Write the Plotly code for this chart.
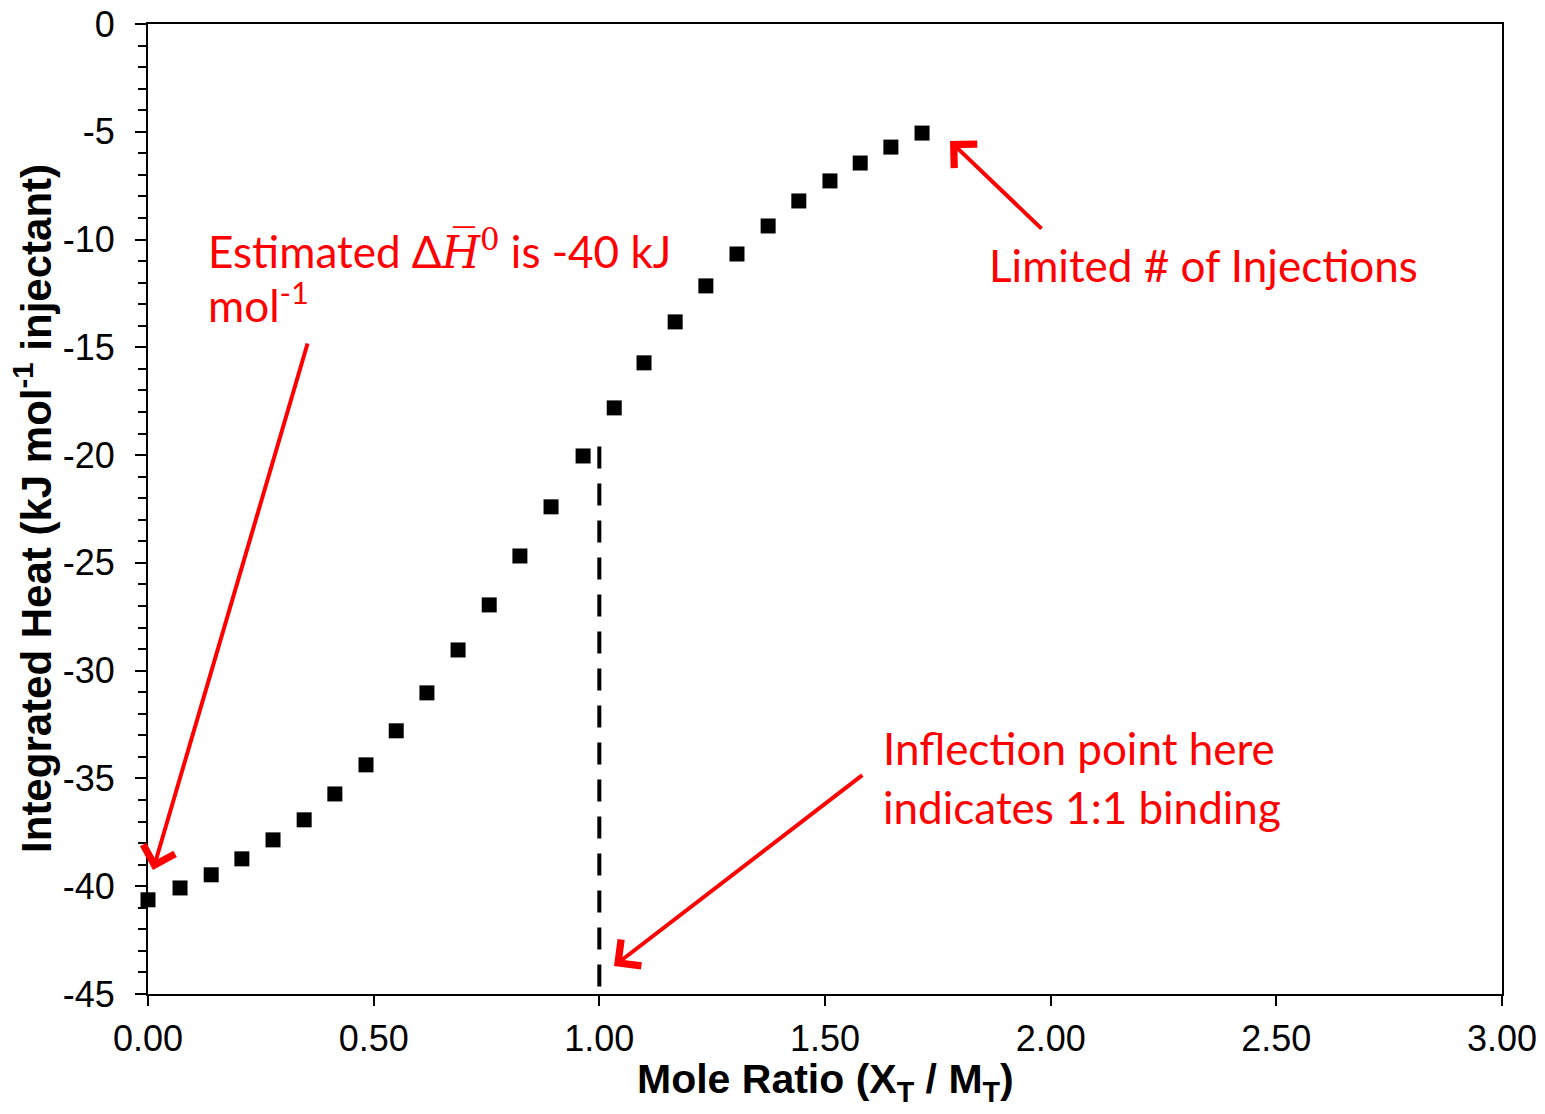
import plotly.graph_objects as go

# Data
mole_ratio = [0.000, 0.071, 0.140, 0.208, 0.277, 0.346, 0.414, 0.483, 0.550, 0.618,
              0.687, 0.756, 0.824, 0.893, 0.964, 1.033, 1.099, 1.168, 1.236, 1.305,
              1.374, 1.442, 1.511, 1.578, 1.646, 1.715]
integrated_heat = [-40.63, -40.08, -39.47, -38.73, -37.85, -36.92, -35.72, -34.37, -32.79, -31.03,
                   -29.04, -26.95, -24.68, -22.40, -20.04, -17.81, -15.72, -13.82, -12.15, -10.67,
                   -9.37, -8.21, -7.28, -6.45, -5.71, -5.06]
inflection_x = [1.0, 1.0]
inflection_y = [-19.6, -45.0]
x_ticks = [0.0, 0.5, 1.0, 1.5, 2.0, 2.5, 3.0]
x_tick_labels = ["0.00", "0.50", "1.00", "1.50", "2.00", "2.50", "3.00"]
y_ticks = [0, -5, -10, -15, -20, -25, -30, -35, -40, -45]
y_tick_labels = ["0", "-5", "-10", "-15", "-20", "-25", "-30", "-35", "-40", "-45"]
x_title = "Mole Ratio (X<sub>T</sub> / M<sub>T</sub>)"
y_title = "Integrated Heat (kJ mol<sup>-1</sup> injectant)"

RED = "#FF0000"
TXT_FONT = "Lato"
TXT_SIZE = 44

fig = go.Figure()
fig.add_trace(go.Scatter(x=mole_ratio, y=integrated_heat, mode="markers",
                         marker=dict(symbol="square", size=15, color="black"),
                         showlegend=False, cliponaxis=False))
fig.add_trace(go.Scatter(x=inflection_x, y=inflection_y, mode="lines",
                         line=dict(color="black", width=4, dash="22px,15px"),
                         showlegend=False))

# Arrows (head x,y; tail ax,ay)
arrows = [
    (0.0111, -39.25, 0.3545, -14.75),
    (1.777, -5.43, 1.983, -9.56),
    (1.0325, -43.70, 1.586, -34.79),
]
for hx, hy, tx, ty in arrows:
    fig.add_annotation(x=hx, y=hy, ax=tx, ay=ty, xref="x", yref="y", axref="x", ayref="y",
                       text="", showarrow=True, arrowhead=4, arrowsize=1.6, arrowwidth=4,
                       arrowcolor=RED)

# Text annotations (one per line)
texts = [
    ("Estimated Δ<span style='font-family:DejaVu Serif'><i>H̅</i><sup>0</sup></span> is -40 kJ", 0.1352, -10.44),
    ("mol<sup>-1</sup>", 0.1352, -12.90),
    ("Limited # of Injections", 1.8656, -11.18),
    ("Inflection point here", 1.6307, -33.59),
    ("indicates 1:1 binding", 1.6307, -36.32),
]
for t, x, y in texts:
    fig.add_annotation(x=x, y=y, xref="x", yref="y", text=t, showarrow=False,
                       xanchor="left", yanchor="middle", xshift=-3,
                       font=dict(family=TXT_FONT, size=TXT_SIZE, color=RED))

axis_font = dict(family="Liberation Sans", size=36, color="black")
title_font = dict(family="Liberation Sans", size=41, color="black", weight="bold")

# Axis titles as paper-positioned annotations
fig.add_annotation(x=0.5, y=-0.091, xref="paper", yref="paper", text=x_title, showarrow=False,
                   xanchor="center", yanchor="middle", font=title_font)
fig.add_annotation(x=-0.085, y=0.501, xref="paper", yref="paper", text=y_title, showarrow=False,
                   xanchor="center", yanchor="middle", textangle=-90,
                   font=dict(family="Liberation Sans", size=42, color="black", weight="bold"))

fig.update_xaxes(range=[0, 3], tickvals=x_ticks, ticktext=x_tick_labels, automargin=False,
                 ticklabeloverflow="allow",
                 showline=True, linecolor="black", linewidth=2, mirror=True,
                 ticks="outside", ticklen=10, tickwidth=2, tickcolor="black",
                 showgrid=False, zeroline=False, tickfont=axis_font, ticklabelstandoff=2)
fig.update_yaxes(range=[-45, 0], tickvals=y_ticks, ticktext=y_tick_labels, automargin=False,
                 ticklabeloverflow="allow",
                 showline=True, linecolor="black", linewidth=2, mirror=True,
                 ticks="outside", ticklen=11, tickwidth=2, tickcolor="black",
                 minor=dict(dtick=1, ticks="outside", ticklen=8, tickwidth=2, tickcolor="black", showgrid=False),
                 showgrid=False, zeroline=False, tickfont=axis_font, ticklabelstandoff=13)

# page body has an 8px margin; size the figure so the plot area lands where the reference has it
fig.update_layout(width=1529, height=1098, margin=dict(l=140, r=35, t=16, b=112),
                  plot_bgcolor="white", paper_bgcolor="white")

fig.write_html("out.html")
